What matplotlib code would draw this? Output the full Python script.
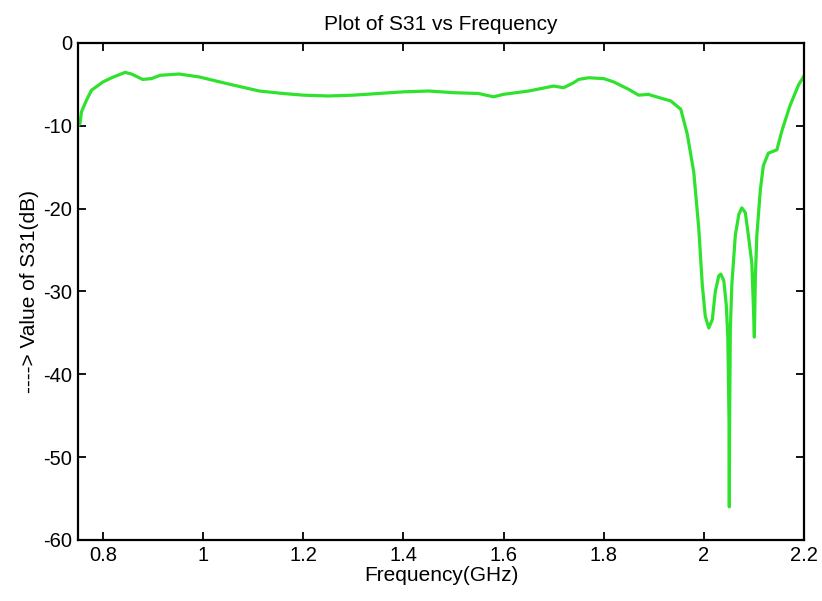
import matplotlib
matplotlib.use("Agg")
import matplotlib.pyplot as plt

freq_ghz = [0.75, 0.754, 0.757, 0.767, 0.777, 0.80, 0.819, 0.844, 0.857, 0.879, 0.897,
            0.914, 0.952, 0.992, 1.047, 1.112, 1.16, 1.2, 1.25, 1.3, 1.35, 1.4, 1.45,
            1.5, 1.55, 1.58, 1.6, 1.65, 1.7, 1.72, 1.74, 1.75, 1.77, 1.8, 1.82, 1.85,
            1.87, 1.89, 1.894, 1.934, 1.954, 1.967, 1.980, 1.990, 1.997, 2.003, 2.010,
            2.017, 2.023, 2.030, 2.034, 2.040, 2.045, 2.048, 2.0505, 2.051, 2.0515,
            2.053, 2.056, 2.063, 2.070, 2.076, 2.083, 2.089, 2.096, 2.099, 2.101,
            2.103, 2.106, 2.113, 2.119, 2.129, 2.146, 2.156, 2.172, 2.189, 2.2]
s31_db = [-10.0, -9.7, -8.3, -6.9, -5.7, -4.7, -4.15, -3.55, -3.75, -4.4, -4.3,
          -3.9, -3.75, -4.1, -4.9, -5.8, -6.1, -6.3, -6.4, -6.3, -6.1, -5.9, -5.8,
          -6.0, -6.1, -6.5, -6.2, -5.8, -5.2, -5.4, -4.8, -4.4, -4.2, -4.3, -4.7, -5.6,
          -6.3, -6.2, -6.3, -7.0, -8.0, -11.0, -15.6, -22.4, -29.2, -33.0, -34.4,
          -33.4, -30.0, -28.1, -27.9, -28.7, -31.7, -35.5, -46.0, -56.0, -46.0,
          -34.6, -29.2, -23.2, -20.7, -19.9, -20.5, -23.2, -26.6, -31.7, -35.5,
          -28.3, -23.2, -17.7, -14.8, -13.3, -12.9, -10.6, -7.6, -5.1, -4.0]

x_ticks = [0.8, 1.0, 1.2, 1.4, 1.6, 1.8, 2.0, 2.2]
x_tick_labels = ["0.8", "1", "1.2", "1.4", "1.6", "1.8", "2", "2.2"]
y_ticks = [0, -10, -20, -30, -40, -50, -60]

plt.rcParams['font.family'] = ['Liberation Sans', 'DejaVu Sans']
plt.rcParams['axes.unicode_minus'] = False

fig = plt.figure(figsize=(8.22, 6.01), dpi=100)
ax = fig.add_axes([0.0949, 0.1015, 0.978 - 0.0949, 0.9285 - 0.1015])
ax.plot(freq_ghz, s31_db, color='#2ee22e', linewidth=2.3)
ax.set_xlim(0.75, 2.2)
ax.set_ylim(-60, 0)
ax.set_xticks(x_ticks)
ax.set_xticklabels(x_tick_labels)
ax.set_yticks(y_ticks)
ax.tick_params(direction='in', length=6, width=1.3, top=True, right=True,
               labelsize=14.5, pad=4)
for s in ax.spines.values():
    s.set_linewidth(1.6)
ax.set_title("Plot of S31 vs Frequency", fontsize=15, pad=9)
ax.set_xlabel("Frequency(GHz)", fontsize=15, labelpad=1)
ax.set_ylabel("----> Value of S31(dB)", fontsize=15, labelpad=3)
fig.savefig("out.png", dpi=100, facecolor='white')
